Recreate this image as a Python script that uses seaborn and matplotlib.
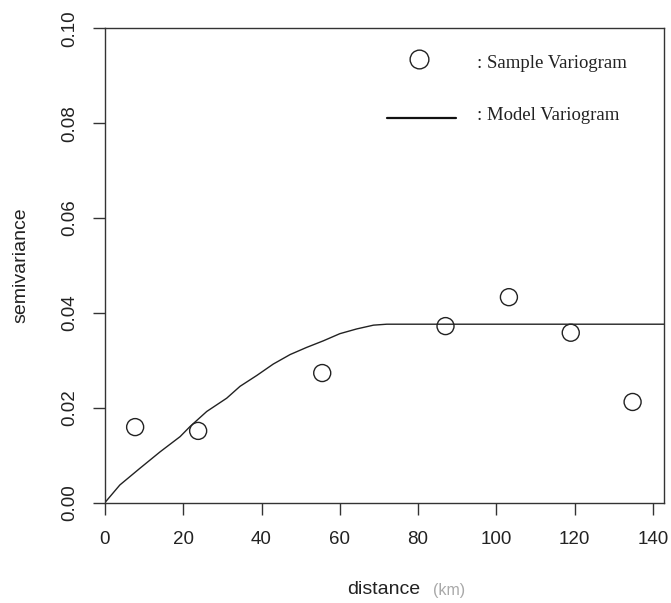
import matplotlib
matplotlib.use("Agg")
import matplotlib.pyplot as plt
import seaborn as sns
import pandas as pd

# Sample variogram (distance in km, semivariance)
sample_dist = [7.7, 23.8, 55.5, 87.0, 103.2, 119.0, 134.8]
sample_gamma = [0.0159, 0.0151, 0.0273, 0.0372, 0.0433, 0.0358, 0.0212]

# Model variogram
model_dist = [0, 3.8, 8.9, 14.1, 19.2, 21.7, 26.0, 31.1, 34.5, 38.8, 43.0, 47.3,
              51.5, 55.8, 60.0, 64.3, 68.6, 72.0, 142.9]
model_gamma = [0, 0.0037, 0.0072, 0.0107, 0.0139, 0.0160, 0.0192, 0.0220, 0.0245,
               0.0268, 0.0292, 0.0312, 0.0327, 0.0341, 0.0356, 0.0366, 0.0374,
               0.0376, 0.0376]

x_ticks = [0, 20, 40, 60, 80, 100, 120, 140]
y_ticks = [0.00, 0.02, 0.04, 0.06, 0.08, 0.10]
y_ticklabels = ["0.00", "0.02", "0.04", "0.06", "0.08", "0.10"]

sns.set_theme(style="white")
plt.rcParams["font.family"] = ["Liberation Sans", "DejaVu Sans"]

fig = plt.figure(figsize=(6.71, 6.03), dpi=100)
ax = fig.add_axes([105 / 671, 1 - 502.5 / 603, (664.3 - 105) / 671, (502.5 - 28.3) / 603])

df_s = pd.DataFrame({"distance": sample_dist, "gamma": sample_gamma})
df_m = pd.DataFrame({"distance": model_dist, "gamma": model_gamma})

sns.lineplot(data=df_m, x="distance", y="gamma", ax=ax, color="#222222",
             linewidth=1.0, sort=False, estimator=None)
sns.scatterplot(data=df_s, x="distance", y="gamma", ax=ax, marker="o",
                s=150, facecolor="none", edgecolor="#222222", linewidth=1.0, zorder=3)

ax.set_xlim(0, 142.9)
ax.set_ylim(0, 0.10)
ax.set_xticks(x_ticks)
ax.set_xticklabels([str(t) for t in x_ticks])
ax.set_yticks(y_ticks)
ax.set_yticklabels(y_ticklabels, rotation=90, va="center")

for s in ax.spines.values():
    s.set_color("#333333")
    s.set_linewidth(1.0)

ax.tick_params(axis="both", which="major", direction="out", length=8.5, width=1.0,
               color="#333333", labelsize=13.5, labelcolor="#222222", bottom=True, left=True)
ax.tick_params(axis="x", pad=12)
ax.tick_params(axis="y", pad=11)

ax.set_xlabel("")
ax.set_ylabel("")

# axis titles
fig.text(384 / 671, 1 - 589 / 603, "distance", ha="center", va="center",
         fontsize=14, color="#222222")
fig.text(449 / 671, 1 - 590 / 603, "(km)", ha="center", va="center",
         fontsize=11.5, color="#a8a8a8")
fig.text(21 / 671, 1 - 265 / 603, "semivariance", ha="center", va="center",
         rotation=90, fontsize=14, color="#222222")

# legend drawn as annotations
ax.plot([80.3], [0.0935], marker="o", markersize=13.5, markerfacecolor="none",
        markeredgecolor="#222222", markeredgewidth=1.0, linestyle="none")
ax.plot([72.0, 89.7], [0.0811, 0.0811], color="#111111", linewidth=1.6)
ax.text(95.0, 0.0926, ": Sample Variogram", family=["Liberation Serif", "DejaVu Serif"],
        fontsize=13.5, color="#222222", va="center", ha="left")
ax.text(95.0, 0.0817, ": Model Variogram", family=["Liberation Serif", "DejaVu Serif"],
        fontsize=13.5, color="#222222", va="center", ha="left")

fig.savefig("out.png", dpi=100)
